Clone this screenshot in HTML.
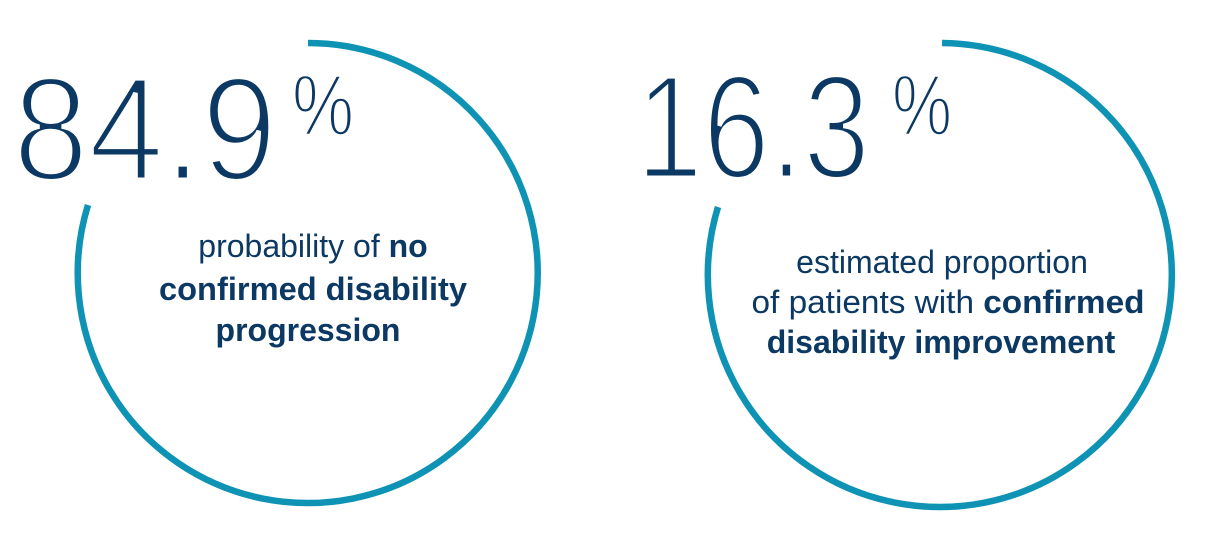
<!DOCTYPE html>
<html><head><meta charset="utf-8"><style>
html,body{margin:0;padding:0;background:#fff;}
svg{display:block;font-family:"Liberation Sans",sans-serif;}
</style></head><body>
<svg width="1222" height="536" viewBox="0 0 1222 536">
<path fill="none" stroke="#0f93b4" stroke-width="6.5" stroke-linecap="butt"
 d="M 308 43 A 230 230 0 1 1 88 205"/>
<path fill="none" stroke="#0f93b4" stroke-width="6.5"
 d="M 942 43 A 232 232 0 1 1 718 207"/>
<g fill="#0c3963">
<g stroke="#fff" stroke-width="5">
<text x="13" y="180" font-size="148" textLength="264" lengthAdjust="spacingAndGlyphs">84.9</text>
<text x="636" y="178" font-size="148" textLength="234" lengthAdjust="spacingAndGlyphs">16.3</text>
</g>
<g stroke="#fff" stroke-width="2.5">
<text x="292" y="135" font-size="86" textLength="62" lengthAdjust="spacingAndGlyphs">%</text>
<text x="892" y="135" font-size="86" textLength="60" lengthAdjust="spacingAndGlyphs">%</text>
</g>
<g font-size="32" text-anchor="middle">
<text x="313" y="257">probability of <tspan font-weight="bold">no</tspan></text>
<text x="313" y="300" font-weight="bold" textLength="308" lengthAdjust="spacingAndGlyphs">confirmed disability</text>
<text x="308" y="341" font-weight="bold">progression</text>
</g>
<g font-size="32" text-anchor="middle">
<text x="942" y="273">estimated proportion</text>
<text x="948" y="313" textLength="393" lengthAdjust="spacingAndGlyphs">of patients with <tspan font-weight="bold">confirmed</tspan></text>
<text x="941" y="353" font-weight="bold">disability improvement</text>
</g>
</g>
</svg>
</body></html>
